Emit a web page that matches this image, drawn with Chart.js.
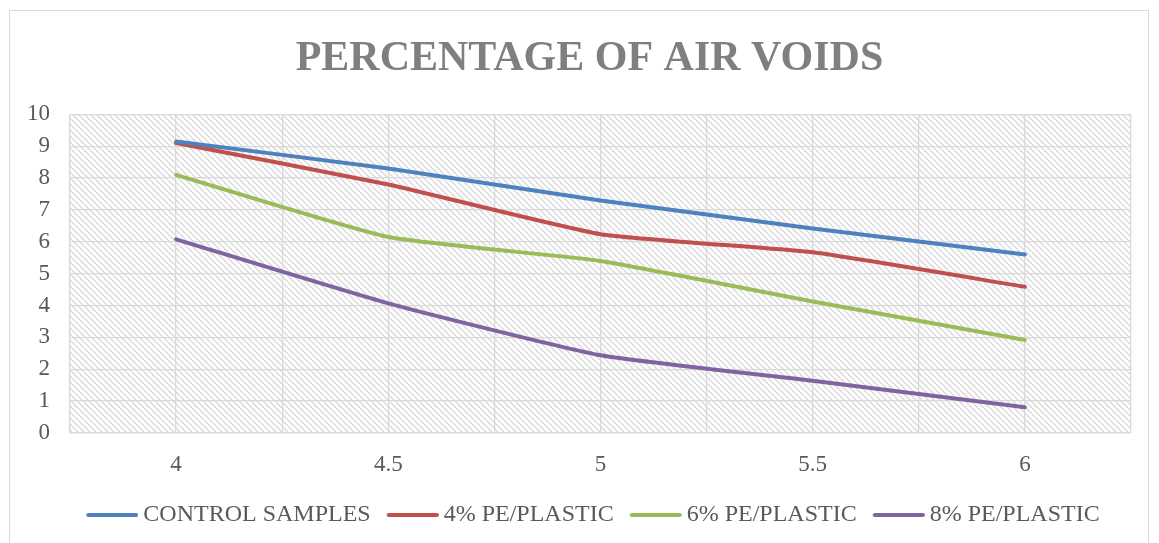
<!DOCTYPE html>
<html>
<head>
<meta charset="utf-8">
<script src="https://cdn.jsdelivr.net/npm/chart.js@4/dist/chart.umd.min.js"></script>
<style>
  html, body { margin: 0; padding: 0; background: #ffffff; }
  #wrap { position: relative; width: 1159px; height: 543px; overflow: hidden; }
  #frame { position: absolute; left: 9px; top: 10px; width: 1140px; height: 560px;
           border: 1px solid #d9d9d9; box-sizing: border-box; pointer-events: none; }
  canvas { position: absolute; left: 0; top: 0; }
</style>
</head>
<body>
<div id="wrap">
  <canvas id="chart" width="1159" height="543"></canvas>
  <div id="frame"></div>
</div>
<script>
// Bitumen content (%) on the horizontal axis
const bitumenContent = [4, 4.5, 5, 5.5, 6];
const xTickLabels = ['4', '4.5', '5', '5.5', '6'];

// Air voids (%) for each mix
const controlSamples = [9.15, 8.3, 7.3, 6.42, 5.6];
const pe4 = [9.1, 7.8, 6.24, 5.67, 4.59];
const pe6 = [8.1, 6.15, 5.4, 4.13, 2.92];
const pe8 = [6.08, 4.07, 2.44, 1.64, 0.81];

const seriesNames = ['CONTROL SAMPLES', '4% PE/PLASTIC', '6% PE/PLASTIC', '8% PE/PLASTIC'];
const seriesColors = ['#4f81bd', '#c0504d', '#9bbb59', '#8064a2'];
const seriesValues = [controlSamples, pe4, pe6, pe8];

const FONT = '"Liberation Serif", "Times New Roman", serif';
const GRID = '#d9d9d9';
const TICK_FONT = 23;
const LEGEND_FONT = 24;
const LEGEND_LINE = 52;
const LEGEND_GAP = 5;

// Legend key: a short horizontal stroke, shifted so the text sits close to it
function legendKey(color) {
  const shift = LEGEND_FONT / 2 - LEGEND_GAP;
  const c = document.createElement('canvas');
  c.width = LEGEND_LINE + 2 * shift;
  c.height = 8;
  const g = c.getContext('2d');
  g.strokeStyle = color;
  g.lineWidth = 4;
  g.lineCap = 'round';
  g.beginPath();
  g.moveTo(2 * shift + 2, 4);
  g.lineTo(c.width - 2, 4);
  g.stroke();
  return c;
}

// Diagonal hatch used to fill the plot area
function hatchPattern(ctx) {
  const s = 6;
  const t = document.createElement('canvas');
  t.width = s; t.height = s;
  const g = t.getContext('2d');
  g.fillStyle = '#ffffff';
  g.fillRect(0, 0, s, s);
  g.strokeStyle = '#d9d9d9';
  g.lineWidth = 1.5;
  for (let k = -1; k <= 1; k++) {
    g.beginPath();
    g.moveTo(k * s, 0);
    g.lineTo(k * s + s, s);
    g.stroke();
  }
  return ctx.createPattern(t, 'repeat');
}

const plotBackground = {
  id: 'plotBackground',
  beforeDraw(chart) {
    const {ctx, chartArea: a} = chart;
    ctx.save();
    ctx.fillStyle = hatchPattern(ctx);
    ctx.fillRect(a.left, a.top, a.right - a.left, a.bottom - a.top);
    ctx.restore();
  }
};

const datasets = seriesValues.map((vals, i) => ({
  label: seriesNames[i],
  data: bitumenContent.map((x, j) => ({x: x, y: vals[j]})),
  borderColor: seriesColors[i],
  backgroundColor: seriesColors[i],
  borderWidth: 4,
  borderCapStyle: 'round',
  borderJoinStyle: 'round',
  pointRadius: 0,
  tension: 0.15,
  fill: false
}));

new Chart(document.getElementById('chart'), {
  type: 'line',
  data: { datasets },
  plugins: [plotBackground],
  options: {
    responsive: false,
    animation: false,
    layout: { padding: { left: 48, right: 28, top: 0, bottom: 6 } },
    plugins: {
      title: {
        display: true,
        text: 'PERCENTAGE OF AIR VOIDS',
        color: '#7f7f7f',
        font: { family: FONT, size: 42, weight: 'bold', lineHeight: 1.2 },
        padding: { top: 34, bottom: 30 }
      },
      legend: {
        position: 'bottom',
        labels: {
          color: '#595959',
          font: { family: FONT, size: LEGEND_FONT },
          usePointStyle: true,
          pointStyleWidth: LEGEND_LINE,
          boxHeight: 8,
          padding: 9,
          generateLabels(chart) {
            return chart.data.datasets.map((ds, i) => ({
              text: ds.label,
              fillStyle: ds.borderColor,
              strokeStyle: ds.borderColor,
              lineWidth: 0,
              pointStyle: legendKey(ds.borderColor),
              hidden: false,
              datasetIndex: i,
              fontColor: '#595959'
            }));
          }
        }
      },
      tooltip: { enabled: false }
    },
    scales: {
      x: {
        type: 'linear',
        min: 3.75,
        max: 6.25,
        afterFit(scale) { scale.height = 61; },
        ticks: {
          stepSize: 0.25,
          autoSkip: false,
          maxRotation: 0,
          padding: 18,
          color: '#595959',
          font: { family: FONT, size: TICK_FONT },
          callback(value) {
            const idx = bitumenContent.indexOf(Number(value.toFixed(2)));
            return idx >= 0 ? xTickLabels[idx] : '';
          }
        },
        grid: { color: GRID, lineWidth: 1.3, drawTicks: false },
        border: { color: GRID, width: 1.3 }
      },
      y: {
        min: 0,
        max: 10,
        afterFit(scale) { scale.width = 22; },
        ticks: {
          stepSize: 1,
          // labels sit left of the plot, right-aligned 20px from its edge
          mirror: true,
          crossAlign: 'far',
          padding: -(20 + TICK_FONT),
          color: '#595959',
          font: { family: FONT, size: TICK_FONT }
        },
        grid: { color: GRID, lineWidth: 1.3, drawTicks: false },
        border: { color: GRID, width: 1.3 }
      }
    }
  }
});
</script>
</body>
</html>
